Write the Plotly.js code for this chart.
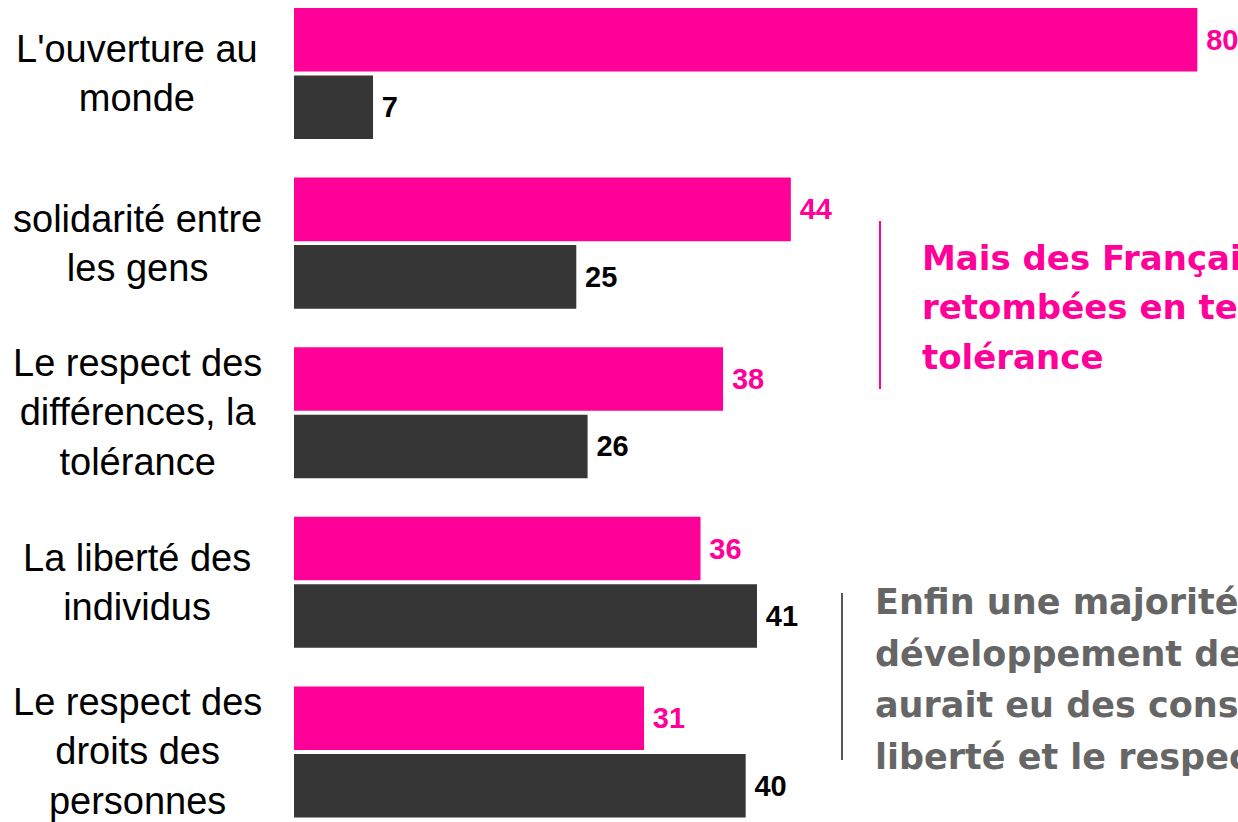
<!DOCTYPE html>
<html>
<head>
<meta charset="utf-8">
<script src="https://cdn.plot.ly/plotly-3.0.1.min.js"></script>
<style>html,body{margin:0;padding:0;background:#fff;overflow:hidden}#chart{width:1238px;height:822px}</style>
</head>
<body>
<div id="chart"></div>
<script>
// ---- data ----
const categories = ["L'ouverture au monde", "solidarité entre les gens", "Le respect des différences, la tolérance", "La liberté des individus", "Le respect des droits des personnes"];
const categoryLabels = ["L'ouverture au<br>monde", "solidarité entre<br>les gens", "Le respect des<br>différences, la<br>tolérance", "La liberté des<br>individus", "Le respect des<br>droits des<br>personnes"];
const seriesPink = [80, 44, 38, 36, 31];
const seriesDark = [7, 25, 26, 41, 40];
const notePink = ["Mais des Français", "retombées en termes", "tolérance"];
const noteGray = ["Enfin une majorité", "développement des", "aurait eu des conséquences", "liberté et le respect"];

const PINK = '#FF0099';
const DARK = '#363636';
const W = 1238, H = 822, L = 294;
const px = p => (p - L) / (W - L);
const py = q => 1 - q / H;

const traces = [
  {type: 'bar', orientation: 'h', name: 'Série 1', y: categories, x: seriesPink,
   marker: {color: PINK}, text: seriesPink.map(v => '\u202f' + v), textposition: 'outside',
   textfont: {family: 'Liberation Sans, Arial, sans-serif', size: 29, color: PINK, weight: 'bold'},
   cliponaxis: false, hoverinfo: 'none'},
  {type: 'bar', orientation: 'h', name: 'Série 2', y: categories, x: seriesDark,
   marker: {color: DARK}, text: seriesDark.map(v => '\u202f' + v), textposition: 'outside',
   textfont: {family: 'Liberation Sans, Arial, sans-serif', size: 29, color: '#000000', weight: 'bold'},
   cliponaxis: false, hoverinfo: 'none'}
];

const annotations = [];
categories.forEach((c, i) => {
  annotations.push({xref: 'paper', yref: 'y', x: px(137), y: c, text: categoryLabels[i],
    showarrow: false, xanchor: 'center', yanchor: 'middle', align: 'center',
    font: {family: 'Liberation Sans, Arial, sans-serif', size: 38, color: '#000000'}});
});
const pinkY = [258, 307, 357];
notePink.forEach((t, i) => annotations.push({xref: 'paper', yref: 'paper', x: px(920), y: py(pinkY[i]),
  text: t, showarrow: false, xanchor: 'left', yanchor: 'middle', align: 'left',
  font: {family: 'DejaVu Sans, Verdana, sans-serif', size: 34, color: PINK, weight: 'bold'}}));
const grayY = [602, 654, 705, 757];
noteGray.forEach((t, i) => annotations.push({xref: 'paper', yref: 'paper', x: px(873), y: py(grayY[i]),
  text: t, showarrow: false, xanchor: 'left', yanchor: 'middle', align: 'left',
  font: {family: 'DejaVu Sans, Verdana, sans-serif', size: 35, color: '#666666', weight: 'bold'}}));

const layout = {
  width: W, height: H,
  margin: {l: L, r: 0, t: 0, b: 0, pad: 0},
  paper_bgcolor: '#ffffff', plot_bgcolor: '#ffffff',
  showlegend: false,
  barmode: 'group', bargap: 0.204, bargroupgap: 0.059,
  xaxis: {range: [0, 83.6], showgrid: false, zeroline: false, showticklabels: false, showline: false, ticks: ''},
  yaxis: {type: 'category', range: [4.413, -0.4334], showgrid: false, zeroline: false, showticklabels: false, showline: false, ticks: ''},
  annotations: annotations,
  shapes: [
    {type: 'line', xref: 'paper', yref: 'paper', x0: px(880), x1: px(880), y0: py(221), y1: py(389), line: {color: PINK, width: 2}},
    {type: 'line', xref: 'paper', yref: 'paper', x0: px(842), x1: px(842), y0: py(593), y1: py(760), line: {color: '#555555', width: 2}}
  ]
};

Plotly.newPlot('chart', traces, layout, {staticPlot: true, displayModeBar: false});
</script>
</body>
</html>
